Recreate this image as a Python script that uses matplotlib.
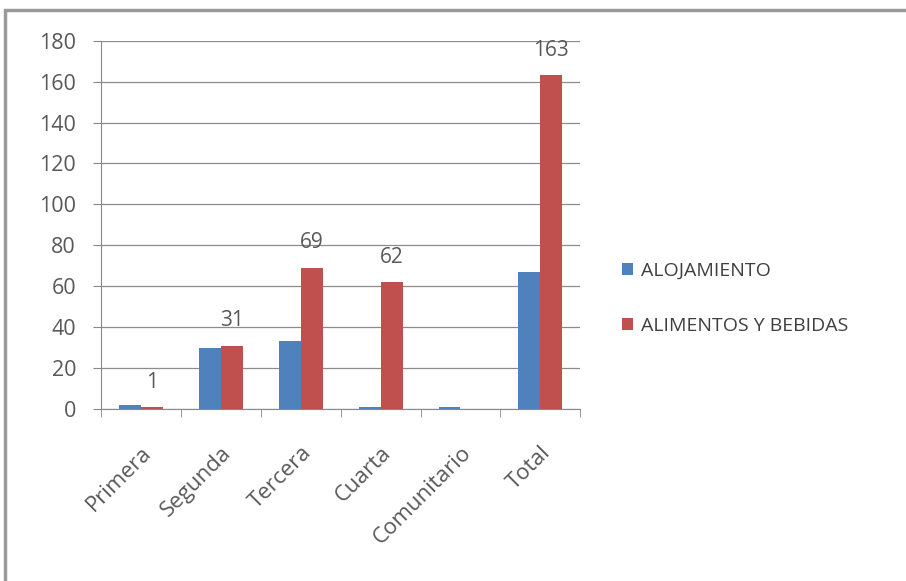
import numpy as np
import matplotlib.pyplot as plt
from matplotlib.patches import Rectangle

plt.rcParams["font.family"] = ["Open Sans", "DejaVu Sans"]

categorias = ["Primera", "Segunda", "Tercera", "Cuarta", "Comunitario", "Total"]
alojamiento = [2, 30, 33, 1, 1, 67]
alimentos = [1, 31, 69, 62, 0, 163]
etiquetas_alimentos = ["1", "31", "69", "62", "", "163"]

azul = "#4F81BD"
rojo = "#C0504D"
gris_texto = "#595959"

fig = plt.figure(figsize=(9.06, 5.81), dpi=100)
ax = fig.add_axes([0.1115, 0.296, 0.529, 0.634])

# marco del grafico
fig.patches.append(Rectangle((0.006, -0.01), 1.0, 0.993, transform=fig.transFigure,
                             fill=False, edgecolor="#9a9a9a", lw=2.5))

x = np.arange(len(categorias))
w = 0.275
ax.bar(x - w / 2, alojamiento, w, color=azul, label="ALOJAMIENTO", zorder=3)
bars = ax.bar(x + w / 2, alimentos, w, color=rojo, label="ALIMENTOS Y BEBIDAS", zorder=3)

for b, t in zip(bars, etiquetas_alimentos):
    ax.text(b.get_x() + b.get_width() / 2, b.get_height() + 7, t,
            ha="center", va="bottom", fontsize=15, color=gris_texto)

ax.set_ylim(0, 180)
ax.set_yticks(range(0, 181, 20))
ax.set_xlim(-0.5, len(categorias) - 0.5)
ax.set_xticks(x)
ax.set_xticklabels(categorias, rotation=45, ha="right", rotation_mode="anchor",
                   fontsize=16, color=gris_texto)
ax.set_xticks(np.arange(-0.5, len(categorias), 1), minor=True)
ax.tick_params(axis="x", which="major", length=0, pad=24)
ax.tick_params(axis="x", which="minor", length=6, color="#888888")
ax.tick_params(axis="y", labelsize=15.5, labelcolor=gris_texto, length=6,
               color="#888888", pad=12)

ax.grid(axis="y", color="#8c8c8c", lw=0.9, zorder=0)
for s in ["top", "right"]:
    ax.spines[s].set_visible(False)
ax.spines["left"].set_color("#888888")
ax.spines["bottom"].set_color("#888888")

ax.legend(loc="center left", bbox_to_anchor=(1.05, 0.30), frameon=False,
          fontsize=14, handlelength=0.6, handleheight=0.6, labelspacing=1.9,
          handletextpad=0.4, labelcolor="#404040")

fig.savefig("out.png", dpi=100)
